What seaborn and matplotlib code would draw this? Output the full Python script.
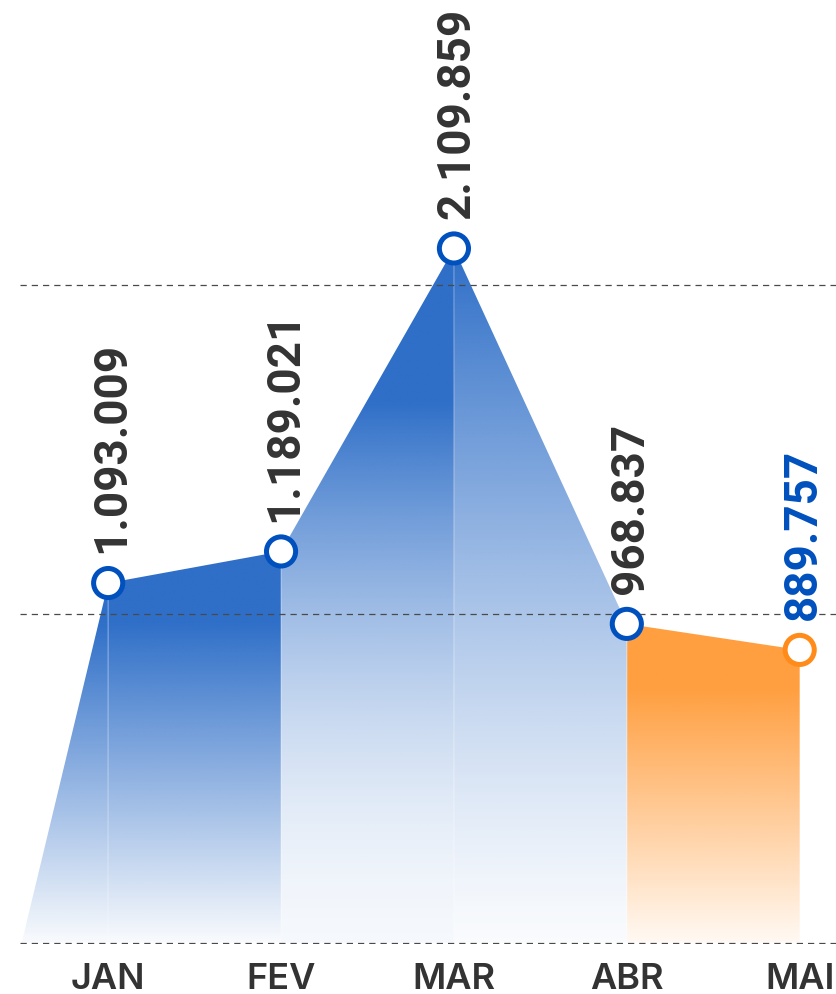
import numpy as np
import matplotlib
matplotlib.use("Agg")
import matplotlib.pyplot as plt
import seaborn as sns

months = ["JAN", "FEV", "MAR", "ABR", "MAI"]
values = [1093009, 1189021, 2109859, 968837, 889757]
value_labels = ["1.093.009", "1.189.021", "2.109.859", "968.837", "889.757"]

blue = "#2f6fc8"
orange = "#ff9f40"
dark = "#333333"

sns.set_theme(style="white")

fig = plt.figure(figsize=(8.36, 9.95), dpi=100)
ax = fig.add_axes([20 / 836, 50 / 995, 816 / 836, 945 / 995])

xs = np.arange(len(months))
# area starts half a step before JAN, on the baseline
area_x = np.r_[xs[0] - 0.5, xs]
area_y = np.r_[0, values]

# per segment: colour and alpha ramp (a0 + a1 * (v / vref) ** p)
seg_color = [blue, blue, blue, blue, orange]
seg_ramp = [(0.03, 1.0, 1.0e6, 1.0), (0.03, 1.0, 1.0e6, 1.0),
            (0.05, 0.95, 1.64e6, 1.7), (0.03, 0.97, 2.09e6, 1.3),
            (0.06, 1.22, 1.0e6, 1.0)]

for i in range(len(area_x) - 1):
    x0, x1 = area_x[i], area_x[i + 1]
    v0, v1 = area_y[i], area_y[i + 1]
    poly = ax.fill_between([x0, x1], [v0, v1], 0, facecolor="none",
                           edgecolor="none")
    top = max(v0, v1)
    vv = np.linspace(0, top, 400)
    a0, a1, vref, p = seg_ramp[i]
    alpha = np.clip(a0 + a1 * (vv / vref) ** p, 0, 1)
    rgba = np.zeros((len(vv), 1, 4))
    rgba[:, 0, :3] = matplotlib.colors.to_rgb(seg_color[i])
    rgba[:, 0, 3] = alpha
    im = ax.imshow(rgba, extent=[x0, x1, 0, top], origin="lower",
                   aspect="auto", interpolation="bilinear", zorder=1)
    im.set_clip_path(poly.get_paths()[0], poly.get_transform())

# faint seams between the segments
ax.vlines(xs[:4], 0, values[:4], color="white", alpha=0.2, lw=1.2, zorder=1.5)

marker_edges = ["#0050be"] * 4 + ["#ff8c1a"]
sns.scatterplot(x=xs, y=values, s=440, color="white", edgecolor=marker_edges,
                linewidth=3.6, zorder=5, ax=ax, legend=False)

label_colors = [dark] * 4 + ["#0050be"]
for x, v, t, c in zip(xs, values, value_labels, label_colors):
    ax.annotate(t, (x, v), xytext=(2, 22), textcoords="offset points",
                rotation=90, ha="center", va="bottom", fontsize=33,
                fontweight="bold", family="Roboto", color=c,
                annotation_clip=False)

ax.set_xlim(-0.51, 4.21)
ax.set_ylim(-0.004e6, 945 / 329.5 * 1e6)
ax.set_yticks([0, 1e6, 2e6])
ax.set_yticklabels([])
ax.grid(axis="y", color="#4a4a4a", lw=0.9, linestyle=(0, (5, 4)))
ax.set_axisbelow(False)
ax.set_xticks(xs)
ax.set_xticklabels(months, fontsize=26, family="Inter", fontweight="semibold",
                   color=dark)
ax.tick_params(axis="both", length=0)
ax.tick_params(axis="x", pad=13)
for s in ax.spines.values():
    s.set_visible(False)
ax.patch.set_alpha(0)

fig.savefig("out.png", dpi=100)
